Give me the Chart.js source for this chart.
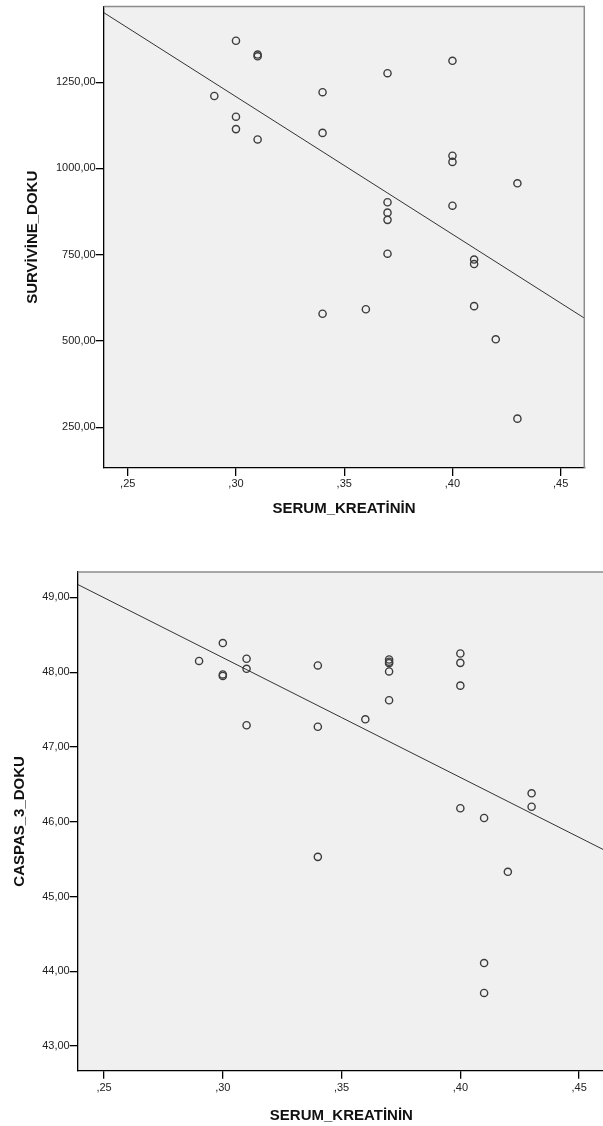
<!DOCTYPE html>
<html>
<head>
<meta charset="utf-8">
<script src="https://cdn.jsdelivr.net/npm/chart.js@4.4.0/dist/chart.umd.min.js"></script>
<style>
html, body { margin: 0; padding: 0; background: #fff; overflow: hidden; width: 603px; height: 1126px; }
#top { position: absolute; left: 0; top: 0; }
#bottom { position: absolute; left: 0; top: 540px; }
</style>
</head>
<body>
<canvas id="top" width="603" height="540"></canvas>
<canvas id="bottom" width="610" height="586"></canvas>
<script>
// serum kreatinin, same for both plots (sorted)
var kreatinin = [0.29, 0.30, 0.30, 0.30, 0.31, 0.31, 0.31, 0.34, 0.34, 0.34, 0.36,
                 0.37, 0.37, 0.37, 0.37, 0.37, 0.40, 0.40, 0.40, 0.40, 0.41, 0.41, 0.41, 0.42, 0.43, 0.43];
var survivine = [1210, 1370, 1150, 1114, 1325, 1330, 1084, 1221, 1103, 579, 592,
                 1276, 902, 872, 851, 753, 1312, 1037, 1019, 892, 736, 723, 601, 505, 957, 275];
var caspas3 = [48.15, 48.39, 47.97, 47.95, 48.18, 48.045, 47.29, 48.09, 47.27, 45.53, 47.37,
               48.17, 48.14, 48.12, 48.01, 47.625, 48.25, 48.125, 47.82, 46.18, 46.05, 44.11, 43.71, 45.33, 46.38, 46.20];

var xTicks = [0.25, 0.30, 0.35, 0.40, 0.45];
var survivineTicks = [250, 500, 750, 1000, 1250];
var caspasTicks = [43, 44, 45, 46, 47, 48, 49];

var FONT = 'Liberation Sans, Arial, sans-serif';

// least squares line over the x range
function fitLine(xs, ys, x0, x1) {
    var n = xs.length, mx = 0, my = 0, sxy = 0, sxx = 0;
    for (var i = 0; i < n; i++) { mx += xs[i]; my += ys[i]; }
    mx /= n; my /= n;
    for (var i = 0; i < n; i++) {
        sxy += (xs[i] - mx) * (ys[i] - my);
        sxx += (xs[i] - mx) * (xs[i] - mx);
    }
    var b = sxy / sxx, a = my - b * mx;
    return [{x: x0, y: a + b * x0}, {x: x1, y: a + b * x1}];
}

var framePlugin = {
    id: 'frame',
    beforeDraw: function(chart) {
        var a = chart.chartArea, c = chart.ctx;
        c.save();
        c.fillStyle = '#f0f0f0';
        c.fillRect(a.left, a.top, a.right - a.left, a.bottom - a.top);
        c.restore();
    },
    afterDraw: function(chart) {
        var a = chart.chartArea, c = chart.ctx;
        c.save();
        c.strokeStyle = '#8c8c8c';
        c.lineWidth = 1.5;
        c.beginPath();
        c.moveTo(a.left, a.top);
        c.lineTo(a.right, a.top);
        c.lineTo(a.right, a.bottom);
        c.stroke();
        c.restore();
    }
};

function makeChart(id, ys, yTicks, o) {
    var pts = kreatinin.map(function(x, i) { return {x: x, y: ys[i]}; });
    return new Chart(document.getElementById(id), {
        type: 'scatter',
        data: {
            datasets: [{
                data: pts,
                pointStyle: 'circle',
                pointRadius: 3.6,
                pointBorderWidth: 1.4,
                borderColor: '#3c3c3c',
                backgroundColor: 'rgba(0,0,0,0)',
                pointHoverRadius: 3.6
            }, {
                type: 'line',
                data: fitLine(kreatinin, ys, o.xMin, o.xMax),
                borderColor: '#333',
                borderWidth: 1,
                pointRadius: 0,
                fill: false
            }]
        },
        options: {
            responsive: false,
            animation: false,
            devicePixelRatio: 1,
            layout: { padding: o.pad },
            plugins: { legend: { display: false }, tooltip: { enabled: false } },
            scales: {
                x: {
                    type: 'linear',
                    min: o.xMin,
                    max: o.xMax,
                    afterFit: function(s) { s.height = o.xAxisH; },
                    afterBuildTicks: function(s) { s.ticks = xTicks.map(function(v) { return {value: v}; }); },
                    grid: { drawOnChartArea: false, drawTicks: true, tickLength: 8, color: '#000', lineWidth: 1.3 },
                    border: { display: true, color: '#000', width: 1.3 },
                    ticks: {
                        color: '#222', padding: o.xTickPad, maxRotation: 0, autoSkip: false,
                        font: { family: FONT, size: 11 },
                        callback: function(v) { return ',' + Math.round(v * 100); }
                    },
                    title: {
                        display: true, text: 'SERUM_KREATİNİN', color: '#111',
                        font: { family: FONT, size: 15, weight: 'bold' },
                        padding: { top: 0, bottom: o.xTitlePad }
                    }
                },
                y: {
                    type: 'linear',
                    min: o.yMin,
                    max: o.yMax,
                    afterFit: function(s) { s.width = o.yAxisW; },
                    afterBuildTicks: function(s) { s.ticks = yTicks.map(function(v) { return {value: v}; }); },
                    grid: { drawOnChartArea: false, drawTicks: true, tickLength: 8, color: '#000', lineWidth: 1.3 },
                    border: { display: true, color: '#000', width: 1.3 },
                    ticks: {
                        color: '#222', padding: 0, autoSkip: false,
                        font: { family: FONT, size: 11 },
                        callback: function(v) { return v.toFixed(2).replace('.', ','); }
                    },
                    title: {
                        display: true, text: o.yTitle, color: '#111',
                        font: { family: FONT, size: 15, weight: 'bold' },
                        padding: { top: o.yTitlePad, bottom: 0 }
                    }
                }
            }
        },
        plugins: [framePlugin]
    });
}

makeChart('top', survivine, survivineTicks, {
    xMin: 0.2389, xMax: 0.4609, yMin: 132, yMax: 1469,
    pad: { left: 0, top: 4, right: 18.7, bottom: 0 },
    xAxisH: 72, yAxisW: 103.7, xTickPad: 1.5, xTitlePad: 22, yTitlePad: 24,
    yTitle: 'SURVİVİNE_DOKU'
});

makeChart('bottom', caspas3, caspasTicks, {
    xMin: 0.2389, xMax: 0.4609, yMin: 42.67, yMax: 49.34,
    pad: { left: 0, top: 32, right: 2.4, bottom: 0 },
    xAxisH: 55.3, yAxisW: 77.7, xTickPad: 3, xTitlePad: 1, yTitlePad: 11,
    yTitle: 'CASPAS_3_DOKU'
});
</script>
</body>
</html>
